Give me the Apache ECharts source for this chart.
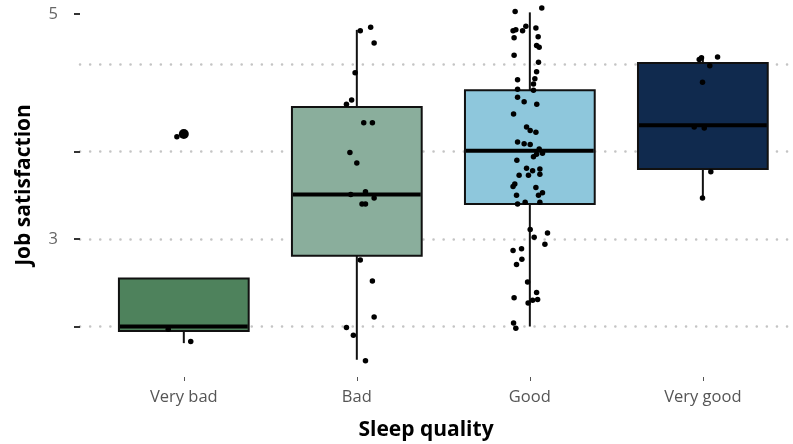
<!DOCTYPE html>
<html><head><meta charset="utf-8">
<script src="https://cdn.jsdelivr.net/npm/echarts@6/dist/echarts.min.js"></script>
<style>html,body{margin:0;padding:0;background:#fff}#c{width:793px;height:444px}</style>
</head><body><div id="c"></div>
<script>
// ---- data ----
const categories = ['Very bad', 'Bad', 'Good', 'Very good'];
const boxColors = ['#4e825c', '#8aae9c', '#8ec7dc', '#102a4e'];
// [lowerWhisker, Q1, median, Q3, upperWhisker]
const boxStats = [
  [1.81, 1.95, 2.00, 2.55, 2.55],
  [1.62, 2.81, 3.51, 4.51, 5.39],
  [2.00, 3.40, 4.01, 4.70, 5.59],
  [3.47, 3.80, 4.30, 5.01, 5.09]
];
// outliers: [categoryIndex, value]
const outliers = [[0, 4.20]];
// jittered observations: [offset from category centre (category units), value]
const pointsVeryBad = [[-0.04, 4.17], [-0.09, 1.97], [0.04, 1.83]];
const pointsBad = [
  [0.02, 5.38], [0.08, 5.42], [0.10, 5.24], [-0.01, 4.90], [-0.03, 4.59], [-0.06, 4.54],
  [0.04, 4.33], [0.09, 4.33], [-0.04, 3.99], [0.00, 3.87], [0.05, 3.54], [0.10, 3.47],
  [0.03, 3.40], [0.05, 3.40], [-0.035, 3.51], [0.02, 2.76], [0.09, 2.52], [0.10, 2.11],
  [-0.06, 1.99], [-0.02, 1.90], [0.05, 1.61]
];
const pointsGood = [
  [-0.085, 5.60], [0.069, 5.64], [-0.023, 5.43], [-0.042, 5.38], [-0.097, 5.38], [-0.081, 5.39],
  [-0.091, 5.30], [0.035, 5.41], [0.048, 5.31], [0.039, 5.21], [0.054, 5.19], [-0.091, 5.10],
  [0.050, 5.02], [0.039, 4.91], [0.029, 4.83], [-0.071, 4.82], [0.021, 4.77], [-0.071, 4.71],
  [0.021, 4.70], [-0.071, 4.62], [-0.033, 4.57], [0.040, 4.54], [-0.094, 4.43], [-0.019, 4.28],
  [0.002, 4.24], [0.035, 4.22], [-0.071, 4.11], [-0.033, 4.09], [0.002, 4.08], [0.054, 4.03],
  [0.073, 3.98], [0.039, 3.97], [0.021, 3.94], [-0.075, 3.90], [-0.062, 3.73], [-0.019, 3.81],
  [0.016, 3.78], [0.058, 3.80], [0.058, 3.74], [-0.008, 3.73], [-0.087, 3.63], [-0.097, 3.60],
  [0.035, 3.59], [0.073, 3.53], [0.050, 3.50], [-0.077, 3.50], [-0.071, 3.40], [-0.027, 3.42],
  [0.058, 3.42], [0.002, 3.11], [0.025, 3.02], [0.102, 3.07], [0.087, 2.94], [-0.097, 2.87],
  [-0.048, 2.89], [-0.046, 2.77], [-0.077, 2.71], [-0.013, 2.51], [0.039, 2.39], [-0.091, 2.33],
  [-0.010, 2.27], [0.016, 2.30], [0.045, 2.31], [-0.094, 2.04], [-0.081, 1.98]
];
const pointsVeryGood = [
  [-0.021, 5.05], [-0.008, 5.07], [0.085, 5.08], [0.040, 4.98], [-0.002, 4.79],
  [-0.050, 4.28], [0.008, 4.27], [0.046, 3.77], [-0.002, 3.47]
];
const gridValues = [2, 3, 4, 5];
const yTickValues = [2, 3, 4, 5.5714];
const yLabelValues = [3, 5.5714];
const yLabelTexts = ['3', '5'];
// ---- build ----
const FONT = '"Open Sans", "Noto Sans", sans-serif';
const boxData = boxStats.map((s, i) => ({ value: [i].concat(s) }));
const jitter = [];
[pointsVeryBad, pointsBad, pointsGood, pointsVeryGood].forEach((arr, i) => {
  arr.forEach(p => jitter.push([i + p[0], p[1]]));
});
const BOXW = 0.75;
function renderBox(params, api) {
  const x = api.value(0);
  const pLo = api.coord([x, api.value(1)]);
  const pQ1 = api.coord([x, api.value(2)]);
  const pMed = api.coord([x, api.value(3)]);
  const pQ3 = api.coord([x, api.value(4)]);
  const pHi = api.coord([x, api.value(5)]);
  const w = api.size([BOXW, 0])[0];
  const cx = pLo[0];
  const fill = boxColors[params.dataIndex];
  const ln = { stroke: '#111', lineWidth: 2 };
  return { type: 'group', children: [
    { type: 'line', shape: { x1: cx, y1: pHi[1], x2: cx, y2: pQ3[1] }, style: ln },
    { type: 'line', shape: { x1: cx, y1: pQ1[1], x2: cx, y2: pLo[1] }, style: ln },
    { type: 'rect', shape: { x: cx - w / 2, y: pQ3[1], width: w, height: pQ1[1] - pQ3[1] }, style: { fill: fill, stroke: '#111', lineWidth: 2 } },
    { type: 'line', shape: { x1: cx - w / 2 + 1, y1: pMed[1], x2: cx + w / 2 - 1, y2: pMed[1] }, style: { stroke: '#000', lineWidth: 4 } }
  ]};
}
const chart = echarts.init(document.getElementById('c'), null, { renderer: 'canvas' });
chart.setOption({
  animation: false,
  backgroundColor: '#fff',
  textStyle: { fontFamily: FONT },
  grid: { left: 80, right: 0, top: 4, bottom: 67, containLabel: false },
  xAxis: {
    type: 'value', min: -0.6, max: 3.521,
    axisLine: { show: false, onZero: false },
    splitLine: { show: false },
    axisTick: { show: true, customValues: [0, 1, 2, 3], length: 4, lineStyle: { color: '#555', width: 1 } },
    axisLabel: { customValues: [0, 1, 2, 3], formatter: v => categories[Math.round(v)], margin: 12, color: '#555', fontSize: 16.5, fontFamily: FONT }
  },
  yAxis: {
    type: 'value', min: 1.4229, max: 5.6857,
    axisLine: { show: false, onZero: false },
    splitLine: { show: false },
    axisTick: { show: true, customValues: yTickValues, length: 6, lineStyle: { color: '#333', width: 2 } },
    axisLabel: { customValues: yLabelValues, formatter: v => yLabelTexts[yLabelValues.findIndex(t => Math.abs(t - v) < 1e-6)], margin: 22, color: '#666', fontSize: 16.5, fontFamily: FONT }
  },
  graphic: [
    { type: 'text', x: 426, y: 430, style: { text: 'Sleep quality', font: 'bold 21px ' + FONT, fill: '#000', align: 'center', verticalAlign: 'middle' } },
    { type: 'text', x: 24, y: 185, rotation: Math.PI / 2, style: { text: 'Job satisfaction', font: 'bold 21px ' + FONT, fill: '#000', align: 'center', verticalAlign: 'middle' } }
  ],
  series: [
    {
      type: 'line', data: [], silent: true, z: 0,
      markLine: { silent: true, symbol: 'none', label: { show: false }, z: 0,
        lineStyle: { color: '#c4c4c4', type: [0.1, 10], width: 2.5, cap: 'round' },
        data: gridValues.map(v => ({ yAxis: v })) }
    },
    { type: 'custom', renderItem: renderBox, data: boxData, encode: { x: 0, y: [1, 2, 3, 4, 5] }, z: 2 },
    { type: 'scatter', data: outliers, symbolSize: 10, itemStyle: { color: '#000', opacity: 1 }, z: 3 },
    { type: 'scatter', data: jitter, symbolSize: 5.5, itemStyle: { color: '#000', opacity: 1 }, z: 4 }
  ]
});
</script></body></html>
